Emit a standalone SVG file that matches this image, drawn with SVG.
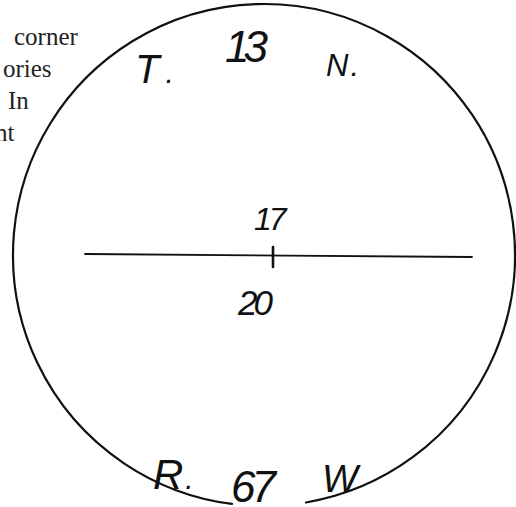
<svg xmlns="http://www.w3.org/2000/svg" width="516" height="507" viewBox="0 0 516 507">
  <style>
    .body { font-family: "Liberation Serif", "Times New Roman", serif; font-size: 25px; fill: #222; }
    .hand { font-family: "Liberation Sans", Arial, sans-serif; font-style: italic; fill: #111; }
    .ln { stroke: #111; fill: none; stroke-linecap: round; }
  </style>
  <rect width="516" height="507" fill="#fff"/>
  <g id="margin-text">
    <text class="body" x="14" y="45">corner</text>
    <text class="body" x="3" y="77">ories</text>
    <text class="body" x="8" y="109">In</text>
    <text class="body" x="-5" y="141">nt</text>
  </g>
  <g id="circle">
    <path class="ln" stroke-width="2.2" d="M306 502.46 A251 251 0 1 0 232 503.95"/>
  </g>
  <g id="connectors">
    <path class="ln" stroke-width="1.8" d="M85 254 L472 257"/>
    <path class="ln" stroke-width="2.6" d="M273 247 L273 267"/>
  </g>
  <g id="labels">
    <text class="hand" x="135" y="83" font-size="40">T<tspan dx="6" font-size="30">.</tspan></text>
    <text class="hand" x="225" y="62" font-size="44" letter-spacing="-6">13</text>
    <text class="hand" x="326" y="76" font-size="31">N<tspan dx="2">.</tspan></text>
    <text class="hand" x="254" y="230" font-size="32" letter-spacing="-3">17</text>
    <text class="hand" x="238" y="315" font-size="35" letter-spacing="-4">20</text>
    <text class="hand" x="153" y="489" font-size="42">R<tspan dx="2" font-size="30">.</tspan></text>
    <text class="hand" x="231" y="502" font-size="44" letter-spacing="-4">67</text>
    <text class="hand" x="322" y="492" font-size="38">W</text>
  </g>
</svg>
